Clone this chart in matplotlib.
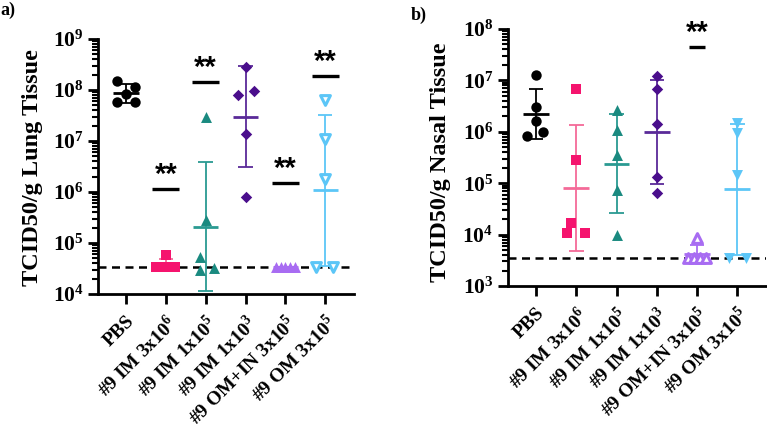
import numpy as np
import matplotlib
matplotlib.use("Agg")
import matplotlib.pyplot as plt
from matplotlib.ticker import LogLocator, NullFormatter, FixedLocator

plt.rcParams['font.family'] = ['Liberation Serif', 'DejaVu Serif']
plt.rcParams['font.weight'] = 'bold'
plt.rcParams['mathtext.fontset'] = 'custom'
plt.rcParams['mathtext.rm'] = 'Liberation Serif'
plt.rcParams['mathtext.bf'] = 'Liberation Serif:bold'

# ---------------- data ----------------
groups = ["PBS", r"#9 IM 3x10$^{6}$", r"#9 IM 1x10$^{5}$", r"#9 IM 1x10$^{3}$",
          r"#9 OM+IN 3x10$^{5}$", r"#9 OM 3x10$^{5}$"]

pbs_lung = [1.5e8, 1.15e8, 8.3e7, 5.8e7, 5.8e7]
im3e6_lung = [5.8e4, 3.4e4, 3.4e4, 3.4e4, 3.4e4]
im1e5_lung = [2.9e7, 2.8e5, 5.2e4, 3.0e4, 3.2e4]
im1e3_lung = [2.8e8, 8.1e7, 9.5e7, 1.4e7, 8.0e5]
omin_lung = [3.4e4, 3.4e4, 3.4e4, 3.4e4, 3.4e4]
om_lung = [6.3e7, 1.1e7, 1.8e6, 3.4e4, 3.4e4]

pbs_nasal = [1.3e7, 3.0e6, 1.6e6, 8.3e5, 9.8e5]
im3e6_nasal = [6.8e6, 2.8e5, 1.66e4, 1.07e4, 1.07e4]
im1e5_nasal = [2.7e6, 1.1e6, 3.6e5, 7.5e4, 1.0e4]
im1e3_nasal = [1.2e7, 6.8e6, 1.45e6, 1.35e5, 6.4e4]
omin_nasal = [8.5e3, 3.5e3, 3.5e3, 3.5e3, 3.5e3]
om_nasal = [1.5e6, 9.4e5, 1.45e5, 3.5e3, 3.5e3]

lod_lung = 3.4e4
lod_nasal = 3.5e3

sig_lung_groups = [1, 2, 4, 5]
sig_lung_heights = [1.15e6, 1.45e8, 1.5e6, 1.9e8]
sig_nasal_groups = [4]
sig_nasal_heights = [4.4e7]

# ---------------- layout / style ----------------
lung_sets = [pbs_lung, im3e6_lung, im1e5_lung, im1e3_lung, omin_lung, om_lung]
nasal_sets = [pbs_nasal, im3e6_nasal, im1e5_nasal, im1e3_nasal, omin_nasal, om_nasal]

lung_offsets = [[-0.22, 0.22, 0, -0.22, 0.22],
                [0, -0.24, -0.08, 0.08, 0.24],
                [0, 0, -0.15, -0.15, 0.2],
                [0, -0.19, 0.22, 0, 0],
                [-0.23, -0.115, 0, 0.115, 0.23],
                [0, 0, 0, -0.23, 0.2]]
nasal_offsets = [[0, 0, 0, -0.23, 0.18],
                 [0, 0, -0.13, -0.23, 0.21],
                 [0, 0, 0, 0, 0],
                 [0, 0, 0, 0, 0],
                 [0, -0.23, -0.08, 0.08, 0.23],
                 [0, 0, 0, -0.2, 0.22]]

colors = ['#000000', '#F5146E', '#1A8A80', '#4A0E8C', '#A86CF2', '#5CC6F7']
err_colors = ['#000000', '#F46A98', '#2A9A92', '#5A2A98', '#A86CF2', '#5CC6F7']
markers = ['o', 's', '^', 'D', '^', 'v']
msizes = [56, 50, 62, 34, 62, 62]

fig = plt.figure(figsize=(7.67, 4.33), dpi=100)
ax_a = fig.add_axes([0.1278, 0.321, 0.3337, 0.589])
ax_b = fig.add_axes([0.6623, 0.3395, 0.3367, 0.5935])


def draw_panel(ax, sets, offsets, ylim, lod, ylabel, open_idx, sig_g, sig_h, sig_half):
    ax.set_yscale('log')
    for i, vals in enumerate(sets):
        vals = np.asarray(vals, dtype=float)
        lv = np.log10(vals)
        gm = lv.mean()
        sd = lv.std(ddof=1)
        lo, hi = 10 ** (gm - sd), 10 ** (gm + sd)
        ax.vlines(i, lo, hi, color=err_colors[i], lw=1.3, zorder=2)
        ax.hlines([lo, hi], i - 0.18, i + 0.18, color=err_colors[i], lw=1.3, zorder=2)
        ax.hlines(10 ** gm, i - 0.32, i + 0.32, color=err_colors[i], lw=2.0, zorder=2)
        xs = i + np.asarray(offsets[i])
        if i in open_idx:
            ax.scatter(xs, vals, s=msizes[i] * 0.8, marker=markers[i], facecolor='white',
                       edgecolor=colors[i], linewidth=2.2, zorder=3)
        else:
            ax.scatter(xs, vals, s=msizes[i], marker=markers[i], color=colors[i],
                       linewidth=0, zorder=3)
    ax.axhline(lod, color='black', ls=(0, (3.2, 2.2)), lw=1.8, zorder=1)
    for g, h in zip(sig_g, sig_h):
        ax.hlines(h, g - sig_half, g + sig_half, color='black', lw=2.4, zorder=4)
        ax.annotate('**', (g, h), xytext=(0, 0), textcoords='offset points',
                    ha='center', va='bottom', fontsize=21, fontweight='bold',
                    family='Liberation Sans')
    ax.set_xlim(-0.7, 5.72)
    ax.set_ylim(*ylim)
    e0, e1 = int(np.log10(ylim[0])), int(np.log10(ylim[1]))
    ax.yaxis.set_major_locator(FixedLocator([10.0 ** e for e in range(e0, e1 + 1)]))
    ax.set_yticklabels([r'$\mathbf{10^{%d}}$' % e for e in range(e0, e1 + 1)], fontsize=15.5)
    ax.yaxis.set_minor_locator(LogLocator(base=10, subs=np.arange(2, 10), numticks=20))
    ax.yaxis.set_minor_formatter(NullFormatter())
    ax.set_xticks(range(len(groups)))
    ax.set_xticklabels(groups, rotation=45, ha='right', rotation_mode='anchor',
                       fontsize=14, fontweight='bold')
    for s in ['top', 'right']:
        ax.spines[s].set_visible(False)
    for s in ['left', 'bottom']:
        ax.spines[s].set_linewidth(2.0)
    ax.tick_params(axis='both', which='major', length=7, width=2.0, direction='out')
    ax.tick_params(axis='x', pad=6)
    ax.tick_params(axis='y', which='minor', length=4, width=1.5)
    ax.set_ylabel(ylabel, fontsize=17.5, fontweight='bold')


draw_panel(ax_a, lung_sets, lung_offsets, (1e4, 1e9), lod_lung, 'TCID50/g Lung Tissue',
           [5], sig_lung_groups, sig_lung_heights, 0.34)
draw_panel(ax_b, nasal_sets, nasal_offsets, (1e3, 1e8), lod_nasal, 'TCID50/g Nasal Tissue',
           [4], sig_nasal_groups, sig_nasal_heights, 0.21)
ax_a.yaxis.set_label_coords(-0.215, 0.494)
ax_b.yaxis.set_label_coords(-0.222, 0.48)

fig.text(0.0, 0.995, 'a)', fontsize=13, fontweight='bold', va='top', ha='left')
fig.text(0.535, 0.985, 'b)', fontsize=13, fontweight='bold', va='top', ha='left')

fig.savefig('out.png', dpi=100)
